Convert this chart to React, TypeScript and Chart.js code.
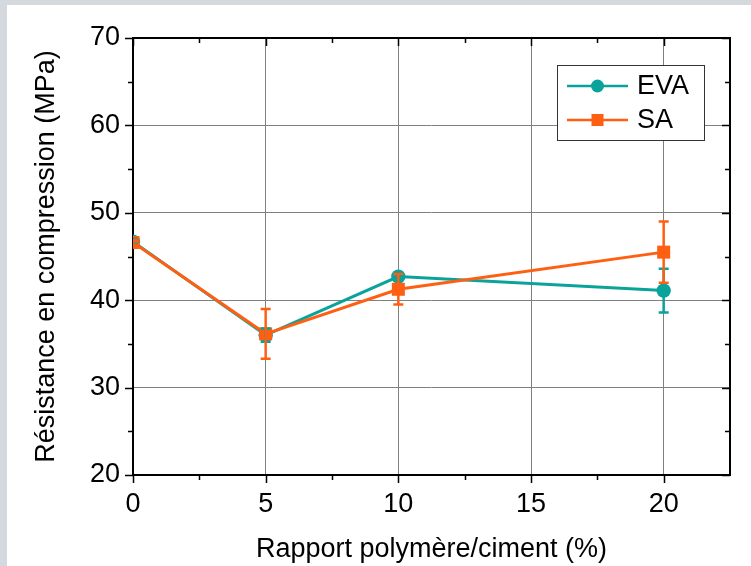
import React, { useEffect, useRef } from 'react';
import { Chart, registerables } from 'chart.js';

Chart.register(...registerables);

// ---- data ----
const xValues = [0, 5, 10, 20];
const evaValues = [46.7, 36.0, 42.7, 41.1];
const evaErrors = [0.3, 0.75, 0.3, 2.5];
const saValues = [46.6, 36.15, 41.25, 45.5];
const saErrors = [0.3, 2.85, 1.75, 3.5];
const seriesLabels = ['EVA', 'SA'];
const xTitle = 'Rapport polymère/ciment (%)';
const yTitle = 'Résistance en compression (MPa)';
const xMin = 0;
const xMax = 22.5;
const yMin = 20;
const yMax = 70;

const TEAL = '#0aa39c';
const ORANGE = '#ff5f12';
const FONT_FAMILY = "Arial, 'Liberation Sans', sans-serif";
const FONT = { family: FONT_FAMILY, size: 27 };

const errorSets = [evaErrors, saErrors];

const frameTicksPlugin = {
  id: 'frameTicks',
  beforeDatasetsDraw(chart: any) {
    const { ctx, chartArea: a, scales } = chart;
    const x = scales.x;
    const y = scales.y;
    ctx.save();
    ctx.strokeStyle = '#000';
    ctx.lineWidth = 1.5;
    ctx.beginPath();
    for (let v = xMin; v < xMax - 0.01; v += 2.5) {
      const px = Math.round(x.getPixelForValue(v)) + 0.5;
      const major = Math.abs(v % 5) < 1e-6;
      const len = major ? 8 : 5;
      ctx.moveTo(px, a.bottom);
      ctx.lineTo(px, a.bottom + len);
      ctx.moveTo(px, a.top);
      ctx.lineTo(px, a.top + len);
    }
    for (let v = yMin; v <= yMax + 0.01; v += 5) {
      const py = Math.round(y.getPixelForValue(v)) + 0.5;
      const major = Math.abs(v % 10) < 1e-6;
      const len = major ? 8 : 5;
      ctx.moveTo(a.left - len, py);
      ctx.lineTo(a.left, py);
      ctx.moveTo(a.right - len, py);
      ctx.lineTo(a.right, py);
    }
    ctx.stroke();
    ctx.lineWidth = 2;
    ctx.strokeRect(a.left, a.top, a.right - a.left, a.bottom - a.top);
    ctx.restore();
  },
};

const errorBarsPlugin = {
  id: 'errorBars',
  afterDatasetsDraw(chart: any) {
    const { ctx, chartArea: a, scales } = chart;
    const x = scales.x;
    const y = scales.y;
    ctx.save();
    ctx.beginPath();
    ctx.rect(a.left, a.top, a.right - a.left, a.bottom - a.top);
    ctx.clip();
    chart.data.datasets.forEach((ds: any, di: number) => {
      const errs = errorSets[di];
      ctx.strokeStyle = ds.borderColor;
      ctx.lineWidth = 2.5;
      ds.data.forEach((pt: any, i: number) => {
        const px = x.getPixelForValue(pt.x);
        const top = y.getPixelForValue(pt.y + errs[i]);
        const bot = y.getPixelForValue(pt.y - errs[i]);
        ctx.beginPath();
        ctx.moveTo(px, top);
        ctx.lineTo(px, bot);
        ctx.moveTo(px - 5, top);
        ctx.lineTo(px + 5, top);
        ctx.moveTo(px - 5, bot);
        ctx.lineTo(px + 5, bot);
        ctx.stroke();
      });
    });
    ctx.restore();
  },
};

const legendPlugin = {
  id: 'boxLegend',
  afterDraw(chart: any) {
    const { ctx, chartArea: a } = chart;
    const w = 147;
    const h = 75;
    const left = a.right - 26 - w;
    const top = a.top + 27;
    ctx.save();
    ctx.fillStyle = '#fff';
    ctx.fillRect(left, top, w, h);
    ctx.strokeStyle = '#333';
    ctx.lineWidth = 1;
    ctx.strokeRect(left + 0.5, top + 0.5, w, h);
    const rows = [top + 21, top + 55];
    chart.data.datasets.forEach((ds: any, i: number) => {
      const ry = rows[i];
      ctx.strokeStyle = ds.borderColor;
      ctx.lineWidth = 2.5;
      ctx.beginPath();
      ctx.moveTo(left + 10, ry);
      ctx.lineTo(left + 71, ry);
      ctx.stroke();
      ctx.fillStyle = ds.borderColor;
      const cx = left + 40.5;
      if (ds.pointStyle === 'circle') {
        ctx.beginPath();
        ctx.arc(cx, ry, 6.5, 0, Math.PI * 2);
        ctx.fill();
      } else {
        ctx.fillRect(cx - 6, ry - 6, 12, 12);
      }
      ctx.fillStyle = '#000';
      ctx.font = `${FONT.size}px ${FONT_FAMILY}`;
      ctx.textBaseline = 'middle';
      ctx.textAlign = 'left';
      ctx.fillText(ds.label, left + 80, ry + 1);
    });
    ctx.restore();
  },
};

export default function App() {
  const canvasRef = useRef<HTMLCanvasElement | null>(null);

  useEffect(() => {
    document.body.style.margin = '0';
    const canvas = canvasRef.current;
    if (!canvas) return;
    const chart = new Chart(canvas, {
      type: 'line',
      data: {
        datasets: [
          {
            label: seriesLabels[0],
            data: xValues.map((xv, i) => ({ x: xv, y: evaValues[i] })),
            borderColor: TEAL,
            backgroundColor: TEAL,
            pointBackgroundColor: TEAL,
            pointBorderWidth: 0,
            pointStyle: 'circle',
            pointRadius: 7.2,
            borderWidth: 3,
            order: 1,
            clip: 0,
          },
          {
            label: seriesLabels[1],
            data: xValues.map((xv, i) => ({ x: xv, y: saValues[i] })),
            borderColor: ORANGE,
            backgroundColor: ORANGE,
            pointBackgroundColor: ORANGE,
            pointBorderWidth: 0,
            pointStyle: 'rect',
            pointRadius: 9.2,
            borderWidth: 3,
            order: 0,
            clip: 0,
          },
        ],
      } as any,
      options: {
        animation: false,
        responsive: false,
        devicePixelRatio: 1,
        layout: { padding: { top: 33, right: 21, left: 0, bottom: 0 } },
        plugins: {
          legend: { display: false },
          tooltip: { enabled: false },
        },
        scales: {
          x: {
            type: 'linear',
            min: xMin,
            max: xMax,
            ticks: {
              stepSize: 5,
              includeBounds: false,
              font: FONT,
              color: '#000',
              padding: 13,
              maxRotation: 0,
            },
            grid: { color: '#808080', lineWidth: 1, drawTicks: false },
            border: { display: false },
            title: {
              display: true,
              text: xTitle,
              font: FONT,
              color: '#000',
              padding: { top: 0, bottom: 0 },
            },
            afterFit: (s: any) => {
              s.height = 91;
            },
          },
          y: {
            type: 'linear',
            min: yMin,
            max: yMax,
            ticks: {
              stepSize: 10,
              font: FONT,
              color: '#000',
              padding: 13,
            },
            grid: { color: '#808080', lineWidth: 1, drawTicks: false },
            border: { display: false },
            title: {
              display: true,
              text: yTitle,
              font: FONT,
              color: '#000',
              padding: { top: 23, bottom: 0 },
            },
            afterFit: (s: any) => {
              s.width = 126;
            },
          },
        },
      } as any,
      plugins: [frameTicksPlugin, errorBarsPlugin, legendPlugin],
    });
    return () => chart.destroy();
  }, []);

  return (
    <div style={{ position: 'relative', width: 751, height: 566, background: '#d4d9dd', overflow: 'hidden' }}>
      <canvas
        ref={canvasRef}
        width={744}
        height={561}
        style={{ position: 'absolute', left: 7, top: 5, width: 744, height: 561, background: '#fff', display: 'block' }}
      />
    </div>
  );
}
